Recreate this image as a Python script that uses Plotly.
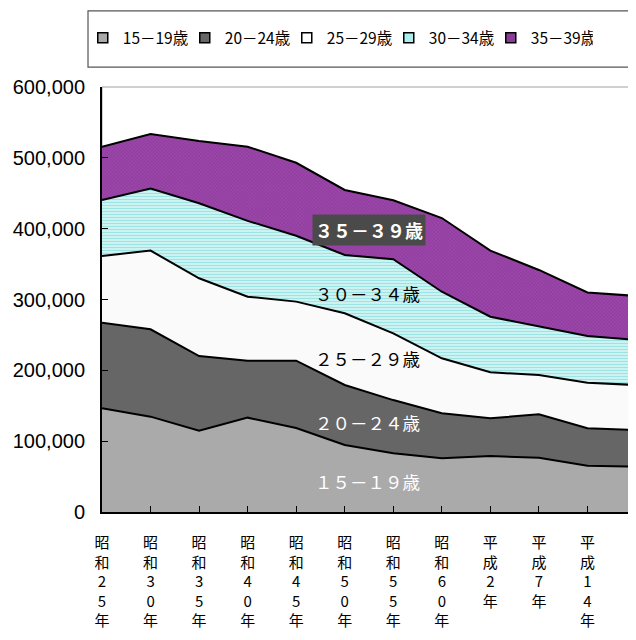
import plotly.graph_objects as go

categories = ["昭和25年", "昭和30年", "昭和35年", "昭和40年", "昭和45年", "昭和50年",
              "昭和55年", "昭和60年", "平成2年", "平成7年", "平成14年", "平成15年"]
series_names = ["15－19歳", "20－24歳", "25－29歳", "30－34歳", "35－39歳"]
age_15_19 = [146400, 134600, 114800, 133200, 118600, 94600, 82900, 75800, 79000, 76700, 65400, 64000]
age_20_24 = [120900, 123400, 105400, 80500, 95100, 84700, 75100, 63500, 53300, 61300, 52800, 51800]
age_25_29 = [94100, 111000, 109800, 90300, 83300, 101200, 94300, 77700, 64900, 55400, 64300, 63500]
age_30_34 = [79100, 87500, 105800, 107000, 93000, 82300, 104500, 94000, 78500, 68200, 66000, 63500]
age_35_39 = [75200, 77200, 88000, 104700, 103000, 91800, 83200, 104000, 93300, 80100, 61500, 62200]
y_ticks = [0, 100000, 200000, 300000, 400000, 500000, 600000]

values = [age_15_19, age_20_24, age_25_29, age_30_34, age_35_39]
fills = ["#aaaaaa", "#666666", "#fafafa", "#a6e8e8", "#8c3a99"]
patterns = [None, None, None,
            dict(shape="-", fgcolor="#5ccfcf", bgcolor="#dcf7f7", size=3, solidity=0.5),
            dict(shape="x", fgcolor="#6a2776", bgcolor="#9c46ab", size=2.5, solidity=0.3)]
legend_fill = ["#aaaaaa", "#666666", "#ffffff", "#aaeeee", "#8c3a99"]

JP = "Noto Sans CJK JP"
fig = go.Figure()
for name, vals, col, pat in zip(series_names, values, fills, patterns):
    kw = dict(x=categories, y=vals, name=name, stackgroup="one", mode="lines",
              line=dict(color="black", width=2), fillcolor=col, showlegend=False,
              hoverinfo="skip")
    if pat:
        kw["fillpattern"] = pat
    fig.add_trace(go.Scatter(**kw))

for name, col in zip(series_names, legend_fill):
    fig.add_trace(go.Scatter(x=[None], y=[None], name=name, mode="markers",
                             marker=dict(symbol="square", size=10, color=col,
                                         line=dict(color="black", width=1.5)),
                             showlegend=True))

n = len(categories)
# the page body adds an 8px offset; size the figure so the page does not scroll
fig.update_layout(
    width=628, height=624,
    margin=dict(l=94, r=0, t=79, b=120, autoexpand=False),
    paper_bgcolor="white", plot_bgcolor="white",
    font=dict(family=JP, color="black"),
    showlegend=True,
    legend=dict(orientation="h", x=-0.036, xanchor="left", y=1.115, yanchor="middle",
                font=dict(family=JP, size=15.5), entrywidth=57, entrywidthmode="pixels",
                bgcolor="rgba(0,0,0,0)", itemwidth=30, traceorder="normal"),
    xaxis=dict(type="category", range=[0, n - 1], showline=True, linecolor="black",
               linewidth=2, ticks="inside", ticklen=6, tickcolor="black", tickwidth=1,
               tickvals=categories, ticktext=["<br>".join(c) for c in categories],
               tickfont=dict(family=JP, size=15), ticklabelstandoff=16,
               showgrid=False, zeroline=False, automargin=False),
    yaxis=dict(range=[0, 600000], tickvals=y_ticks, tickformat=",d", showline=True,
               linecolor="black", linewidth=2, ticks="inside", ticklen=6,
               tickcolor="black", tickwidth=1, tickfont=dict(family="Liberation Sans", size=20),
               ticklabelstandoff=11, showgrid=False, zeroline=False, automargin=False),
)

# plot area border (top / right)
fig.add_shape(type="rect", xref="paper", yref="paper", x0=0, x1=0.999, y0=0, y1=1,
              line=dict(color="#a0a0a0", width=1), layer="below")
# legend box
fig.add_shape(type="rect", xref="paper", yref="paper", x0=-0.0262, x1=1.02,
              y0=1.047, y1=1.179, line=dict(color="#555555", width=1.2))

label_y = [42400, 127000, 217000, 308000, 398000]
label_text = ["１５－１９歳", "２０－２４歳", "２５－２９歳", "３０－３４歳", "３５－３９歳"]
label_col = ["white", "white", "black", "black", "white"]
for i, (t, yv, c) in enumerate(zip(label_text, label_y, label_col)):
    ann = dict(x=5.47, y=yv, xref="x", yref="y", text=t, showarrow=False,
               font=dict(family=JP, size=17.5, color=c))
    if i == 4:
        ann["text"] = "<b>" + t + "</b>"
        ann["x"] = 5.5
        ann["font"] = dict(family=JP, size=18, color=c)
        ann["bgcolor"] = "#4a4a4a"
        ann["borderpad"] = 2
    fig.add_annotation(**ann)

fig.write_html("out.html")
